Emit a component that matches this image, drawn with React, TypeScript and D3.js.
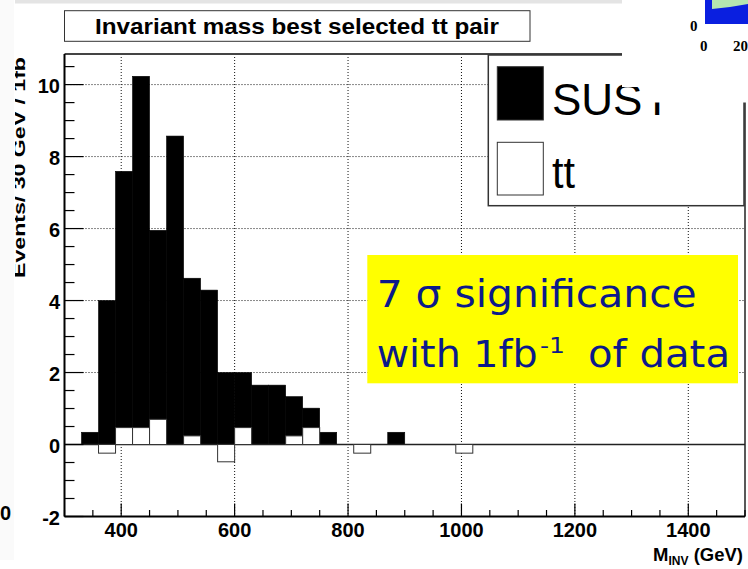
import React from "react";
import * as d3 from "d3";

// ---- data ----
const binStart = 300;
const binWidth = 30;
const nBins = 40;
const susyValues = [
  0, 0.34, 4.0, 7.59, 10.23, 5.95, 8.57, 4.62, 4.29, 2.0,
  2.0, 1.65, 1.65, 1.33, 1.01, 0.34, 0, 0, 0, 0.34,
  0, 0, 0, 0, 0, 0, 0, 0, 0, 0,
  0, 0, 0, 0, 0, 0, 0, 0, 0, 0,
];
const ttValues = [
  0, 0, -0.24, 0.47, 0.47, 0.7, 0, 0.24, 0, -0.48,
  0.47, 0, 0, 0.24, 0.47, 0, 0, -0.24, 0, 0,
  0, 0, 0, -0.24, 0, 0, 0, 0, 0, 0,
  0, 0, 0, 0, 0, 0, 0, 0, 0, 0,
];
const xMajorTicks = [400, 600, 800, 1000, 1200, 1400];
const yMajorTicks = [-2, 0, 2, 4, 6, 8, 10];
const titleText = "Invariant mass best selected tt pair";
const yTitle = "Events/ 30 GeV / 1fb";
const legendLabels = ["SUSY", "tt"];

const W = 748;
const H = 569;
const L = 64.5, R = 745, T = 54, B = 516.5;

export default function App() {
  const x = d3.scaleLinear().domain([300, 1500]).range([L, R]);
  const y = d3.scaleLinear().domain([-2, 10.85]).range([B, T]);
  const bins = d3.range(nBins).map((i) => ({
    x0: binStart + i * binWidth,
    x1: binStart + (i + 1) * binWidth,
    s: susyValues[i],
    t: ttValues[i],
  }));
  const xMinor = d3.range(300, 1501, 50);
  const yMinor = d3.range(-2, 10.85, 0.5);
  const font = "'Liberation Sans', Arial, Helvetica, sans-serif";

  return (
    <svg width={W} height={H} style={{ position: "absolute", left: 0, top: 0, background: "#fff" }}>
      <defs>
        <clipPath id="ylabclip">
          <rect x={15} y={0} width={100} height={H} />
        </clipPath>
        <clipPath id="plotclip">
          <rect x={L} y={T} width={R - L} height={B - T} />
        </clipPath>
      </defs>
      <rect x={0} y={0} width={14} height={560} fill="#fafafa" />
      <rect x={15} y={0} width={607} height={3.5} fill="#e4e4e4" />

      {/* title */}
      <rect x={64.5} y={10.7} width={465.5} height={30.6} fill="#fff" stroke="#333" strokeWidth={1} />
      <text x={297} y={34.3} textAnchor="middle" fontFamily={font} fontWeight="bold" fontSize={22}
        textLength={404} lengthAdjust="spacingAndGlyphs">{titleText}</text>

      {/* grid */}
      <g stroke="#111" strokeWidth={1} strokeDasharray="1,2">
        {xMajorTicks.map((v) => (
          <line key={"gx" + v} x1={x(v)} x2={x(v)} y1={T} y2={B} />
        ))}
        {yMajorTicks.filter((v) => v > -2).map((v) => (
          <line key={"gy" + v} x1={L} x2={R} y1={y(v)} y2={y(v)} />
        ))}
      </g>

      {/* histograms */}
      <g clipPath="url(#plotclip)">
        {bins.filter((b) => b.s !== 0).map((b, i) => (
          <rect key={"s" + i} x={x(b.x0)} y={y(b.s)} width={x(b.x1) - x(b.x0)} height={y(0) - y(b.s)}
            fill="#000" stroke="#000" strokeWidth={0.6} />
        ))}
        <line x1={x(300)} x2={x(1500)} y1={y(0)} y2={y(0)} stroke="#222" strokeWidth={1.5} />
        {bins.filter((b) => b.t !== 0).map((b, i) => (
          <rect key={"t" + i} x={x(b.x0)} y={y(Math.max(0, b.t))} width={x(b.x1) - x(b.x0)}
            height={Math.abs(y(0) - y(b.t))} fill="#fff" stroke="#333" strokeWidth={1} />
        ))}
      </g>

      {/* frame */}
      <line x1={L} x2={R} y1={T} y2={T} stroke="#444" strokeWidth={2} />
      <line x1={R} x2={R} y1={T} y2={B} stroke="#222" strokeWidth={1.5} />
      <line x1={L} x2={L} y1={T} y2={B} stroke="#000" strokeWidth={2} />
      <line x1={L} x2={R} y1={B} y2={B} stroke="#000" strokeWidth={2} />

      {/* ticks */}
      <g stroke="#000" strokeWidth={1.2}>
        {yMinor.map((v) => {
          const major = Math.abs(v / 2 - Math.round(v / 2)) < 1e-6;
          return <line key={"yt" + v} x1={L} x2={L + (major ? 19 : 10)} y1={y(v)} y2={y(v)} />;
        })}
        {xMinor.map((v) => {
          const major = v % 200 === 0;
          return <line key={"xt" + v} x1={x(v)} x2={x(v)} y1={B} y2={B - (major ? 13 : 6.5)} />;
        })}
      </g>

      {/* tick labels */}
      <g fontFamily={font} fontWeight="bold" fontSize={20} fill="#000">
        {yMajorTicks.map((v) => (
          <text key={"yl" + v} x={60} y={y(v) + 8.5} textAnchor="end">{v}</text>
        ))}
        {xMajorTicks.map((v) => (
          <text key={"xl" + v} x={x(v)} y={537} textAnchor="middle">{v}</text>
        ))}
        <text x={11} y={519.5} textAnchor="end">0</text>
      </g>

      {/* axis titles */}
      <g clipPath="url(#ylabclip)">
        <text transform="translate(25,278) rotate(-90)" fontFamily={font} fontWeight="bold" fontSize={17}
          textLength={221} lengthAdjust="spacingAndGlyphs">{yTitle}</text>
      </g>
      <text x={743} y={561} textAnchor="end" fontFamily={font} fontWeight="bold" fontSize={18.5}>
        M<tspan fontSize={12} dy={3.5}>INV</tspan><tspan dy={-3.5}> (GeV)</tspan>
      </text>

      {/* legend */}
      <rect x={488.3} y={55} width={255.7} height={150.7} fill="#fff" stroke="#333" strokeWidth={1.5} />
      <rect x={497.3} y={66.7} width={46} height={53.3} fill="#000" stroke="#333" strokeWidth={1} />
      <rect x={497.3} y={142.3} width={46} height={52.7} fill="#fff" stroke="#333" strokeWidth={1} />
      <text x={552} y={115} fontFamily={font} fontSize={44}>{legendLabels[0]}</text>
      <text x={552} y={188} fontFamily={font} fontSize={44} textLength={23} lengthAdjust="spacingAndGlyphs">{legendLabels[1]}</text>

      {/* overlay from neighbouring figure */}
      <rect x={622} y={0} width={126} height={87} fill="#fff" />
      <rect x={645} y={0} width={103} height={102.5} fill="#fff" />
      <rect x={705} y={0} width={43} height={24} fill="#0a1fe0" />
      <polygon points="712,0 748,0 748,4 730,7 712,9" fill="#b5e6b0" />
      <g fontFamily="'Liberation Serif', 'DejaVu Serif', serif" fontWeight="bold" fontSize={15} fill="#000">
        <text x={690} y={31}>0</text>
        <text x={700} y={51}>0</text>
        <text x={733} y={51}>20</text>
      </g>

      {/* annotation */}
      <rect x={367.3} y={255} width={370.7} height={128.3} fill="#ffff00" />
      <g fontFamily="'DejaVu Sans', sans-serif" fontSize={37} fill="#0c1a8a">
        <text x={376.7} y={306.7} textLength={320} lengthAdjust="spacingAndGlyphs">7 σ significance</text>
        <text x={376.7} y={366.7} textLength={161} lengthAdjust="spacingAndGlyphs">with 1fb</text>
        <text x={540} y={353} fontSize={22} textLength={25} lengthAdjust="spacingAndGlyphs">-1</text>
        <text x={588} y={366.7} textLength={142} lengthAdjust="spacingAndGlyphs">of data</text>
      </g>
    </svg>
  );
}
